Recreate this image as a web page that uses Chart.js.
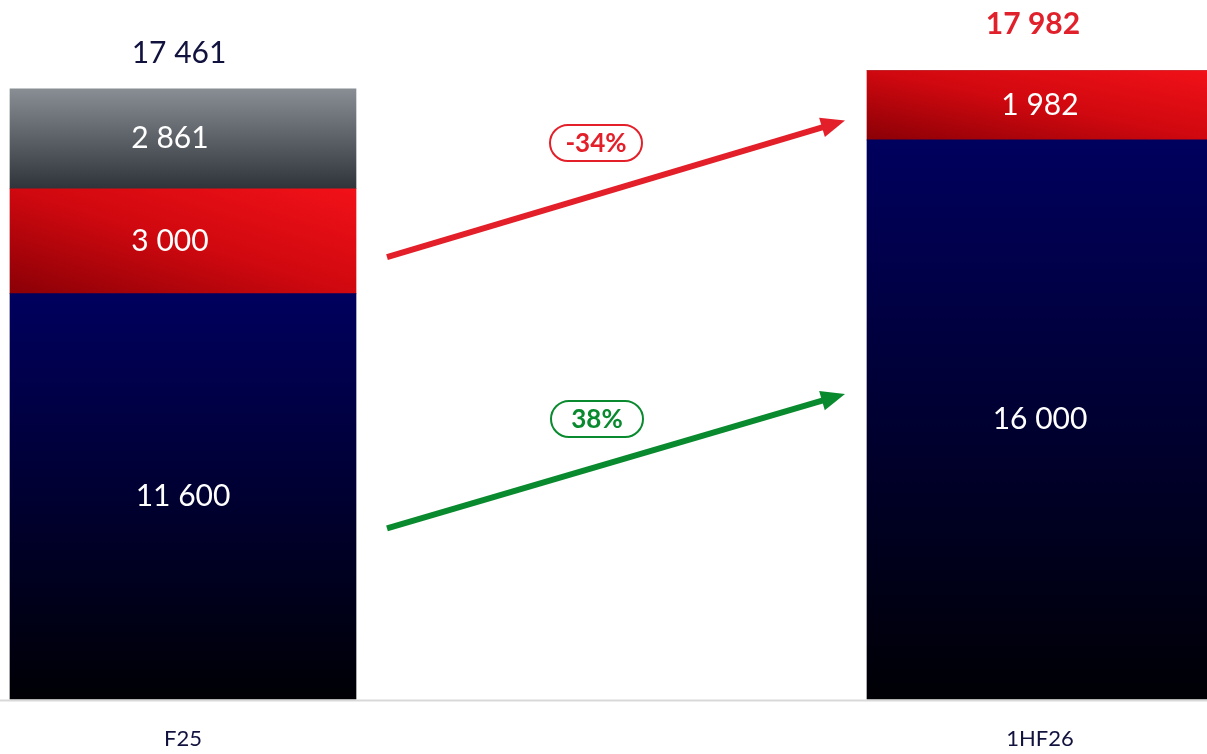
<!DOCTYPE html>
<html>
<head>
<meta charset="utf-8">
<script src="https://cdn.jsdelivr.net/npm/chart.js@4.4.1/dist/chart.umd.min.js"></script>
<style>
  html, body { margin: 0; padding: 0; background: #fff; overflow: hidden; }
  #wrap { width: 1207px; height: 754px; }
</style>
</head>
<body>
<div id="wrap"><canvas id="chart"></canvas></div>
<script>
const categories = ["F25", "1HF26"];
const baseValues = [11600, 16000];
const redValues = [3000, 1982];
const greyValues = [2861, 0];
const totals = [17461, 17982];
const changeLabels = ["-34%", "38%"];
// arrow anchors in data units: [start, end]
const redArrow = [12640, 16550];
const greenArrow = [4880, 8730];

const FONT = "Lato, 'Open Sans', sans-serif";
const NAVY = "#12123f";

function fmt(v) {
  return String(v).replace(/\B(?=(\d{3})+(?!\d))/g, " ");
}

// diagonal gradient: bright at top-right corner, dark at bottom-left
function diagGradient(ctx, left, top, right, bottom, stops) {
  const w = right - left, h = bottom - top;
  const cx = (left + right) / 2, cy = (top + bottom) / 2;
  const nl = Math.hypot(w, h) || 1;
  const nx = h / nl, ny = -w / nl;
  const L = (w * h) / nl;
  const g = ctx.createLinearGradient(cx + nx * L, cy + ny * L, cx - nx * L, cy - ny * L);
  stops.forEach(s => g.addColorStop(s[0], s[1]));
  return g;
}

// gradient fill per bar segment
const gradientFill = {
  id: "gradientFill",
  beforeDatasetsDraw(chart) {
    const ctx = chart.ctx;
    chart.data.datasets.forEach((ds, di) => {
      chart.getDatasetMeta(di).data.forEach((el) => {
        const top = el.y, bottom = el.base;
        const left = el.x - el.width / 2, right = el.x + el.width / 2;
        if (bottom - top < 1) return;
        let g;
        if (ds.kind === "blue") {
          g = ctx.createLinearGradient(0, top, 0, bottom);
          g.addColorStop(0, "#00005e");
          g.addColorStop(1, "#000005");
        } else if (ds.kind === "red") {
          g = diagGradient(ctx, left, top, right, bottom,
            [[0, "#f21118"], [0.5, "#d0080f"], [1, "#8a0006"]]);
        } else {
          g = ctx.createLinearGradient(0, top, 0, bottom);
          g.addColorStop(0, "#888e94");
          g.addColorStop(1, "#2f343a");
        }
        el.options.backgroundColor = g;
      });
    });
  }
};

function arrow(ctx, x1, y1, x2, y2, color) {
  const ang = Math.atan2(y2 - y1, x2 - x1);
  const head = 24, half = 10;
  const bx = x2 - head * Math.cos(ang), by = y2 - head * Math.sin(ang);
  ctx.save();
  ctx.strokeStyle = color;
  ctx.fillStyle = color;
  ctx.lineWidth = 6;
  ctx.beginPath();
  ctx.moveTo(x1, y1);
  ctx.lineTo(bx + 2 * Math.cos(ang), by + 2 * Math.sin(ang));
  ctx.stroke();
  ctx.beginPath();
  ctx.moveTo(x2, y2);
  ctx.lineTo(bx + half * Math.sin(ang), by - half * Math.cos(ang));
  ctx.lineTo(bx - half * Math.sin(ang), by + half * Math.cos(ang));
  ctx.closePath();
  ctx.fill();
  ctx.restore();
}

function pill(ctx, cx, cy, text, color) {
  const w = 92, h = 36, r = 18;
  ctx.save();
  ctx.strokeStyle = color;
  ctx.lineWidth = 2;
  ctx.fillStyle = "#fff";
  ctx.beginPath();
  ctx.roundRect(cx - w / 2, cy - h / 2, w, h, r);
  ctx.fill();
  ctx.stroke();
  ctx.fillStyle = color;
  ctx.font = "bold 26px " + FONT;
  ctx.textAlign = "center";
  ctx.textBaseline = "middle";
  ctx.fillText(text, cx, cy + 1);
  ctx.restore();
}

const overlay = {
  id: "overlay",
  beforeDraw(chart) {
    // baseline across the whole width
    const ctx = chart.ctx;
    const y0 = chart.scales.y.getPixelForValue(0);
    ctx.save();
    ctx.strokeStyle = "#d9d9d9";
    ctx.lineWidth = 2;
    ctx.beginPath();
    ctx.moveTo(0, y0 + 1.5);
    ctx.lineTo(chart.width, y0 + 1.5);
    ctx.stroke();
    ctx.restore();
  },
  afterDatasetsDraw(chart) {
    const ctx = chart.ctx;
    const y = chart.scales.y;

    // segment labels
    ctx.save();
    ctx.fillStyle = "#fff";
    ctx.font = "30px " + FONT;
    ctx.textAlign = "center";
    ctx.textBaseline = "middle";
    chart.data.datasets.forEach((ds, di) => {
      chart.getDatasetMeta(di).data.forEach((el, i) => {
        const v = ds.data[i];
        if (!v) return;
        const dx = (i === 0 && di > 0) ? -13 : 0;
        ctx.fillText(fmt(v), el.x + dx, (el.y + el.base) / 2);
      });
    });
    ctx.restore();

    // totals
    const m0 = chart.getDatasetMeta(0).data;
    ctx.save();
    ctx.textAlign = "center";
    ctx.textBaseline = "middle";
    ctx.font = "30px " + FONT;
    ctx.fillStyle = NAVY;
    ctx.fillText(fmt(totals[0]), m0[0].x - 4, y.getPixelForValue(totals[0]) - 35);
    ctx.font = "bold 30px " + FONT;
    ctx.fillStyle = "#e0202a";
    ctx.fillText(fmt(totals[1]), m0[1].x - 7, y.getPixelForValue(totals[1]) - 46);
    ctx.restore();

    // arrows between bars
    const a = m0[0], b = m0[1];
    const xs = a.x + a.width / 2 + 31;
    const xe = b.x - b.width / 2 - 22;
    arrow(ctx, xs, y.getPixelForValue(redArrow[0]), xe, y.getPixelForValue(redArrow[1]), "#e3202a");
    arrow(ctx, xs, y.getPixelForValue(greenArrow[0]), xe, y.getPixelForValue(greenArrow[1]), "#0a8a2e");
    pill(ctx, 596, 143, changeLabels[0], "#e3202a");
    pill(ctx, 597, 419, changeLabels[1], "#0a8a2e");
  }
};

const placeholder = () => "#000";

new Chart(document.getElementById("chart"), {
  type: "bar",
  data: {
    labels: categories,
    datasets: [
      { label: "Base", kind: "blue", data: baseValues, clip: false, backgroundColor: placeholder },
      { label: "Red", kind: "red", data: redValues, clip: false, backgroundColor: placeholder },
      { label: "Grey", kind: "grey", data: greyValues, clip: false, backgroundColor: placeholder }
    ]
  },
  options: {
    responsive: true,
    maintainAspectRatio: false,
    animation: false,
    barThickness: 346,
    layout: { padding: { left: 183, right: 167, top: 0, bottom: 0 } },
    plugins: {
      legend: { display: false },
      tooltip: { enabled: false }
    },
    scales: {
      x: {
        stacked: true,
        offset: false,
        grid: { display: false },
        border: { display: false },
        afterFit(scale) { scale.height = 55; },
        ticks: {
          color: NAVY,
          padding: 19,
          maxRotation: 0,
          font: { family: FONT, size: 22 }
        }
      },
      y: {
        stacked: true,
        display: false,
        min: 0,
        max: 20000
      }
    }
  },
  plugins: [gradientFill, overlay]
});
</script>
</body>
</html>
